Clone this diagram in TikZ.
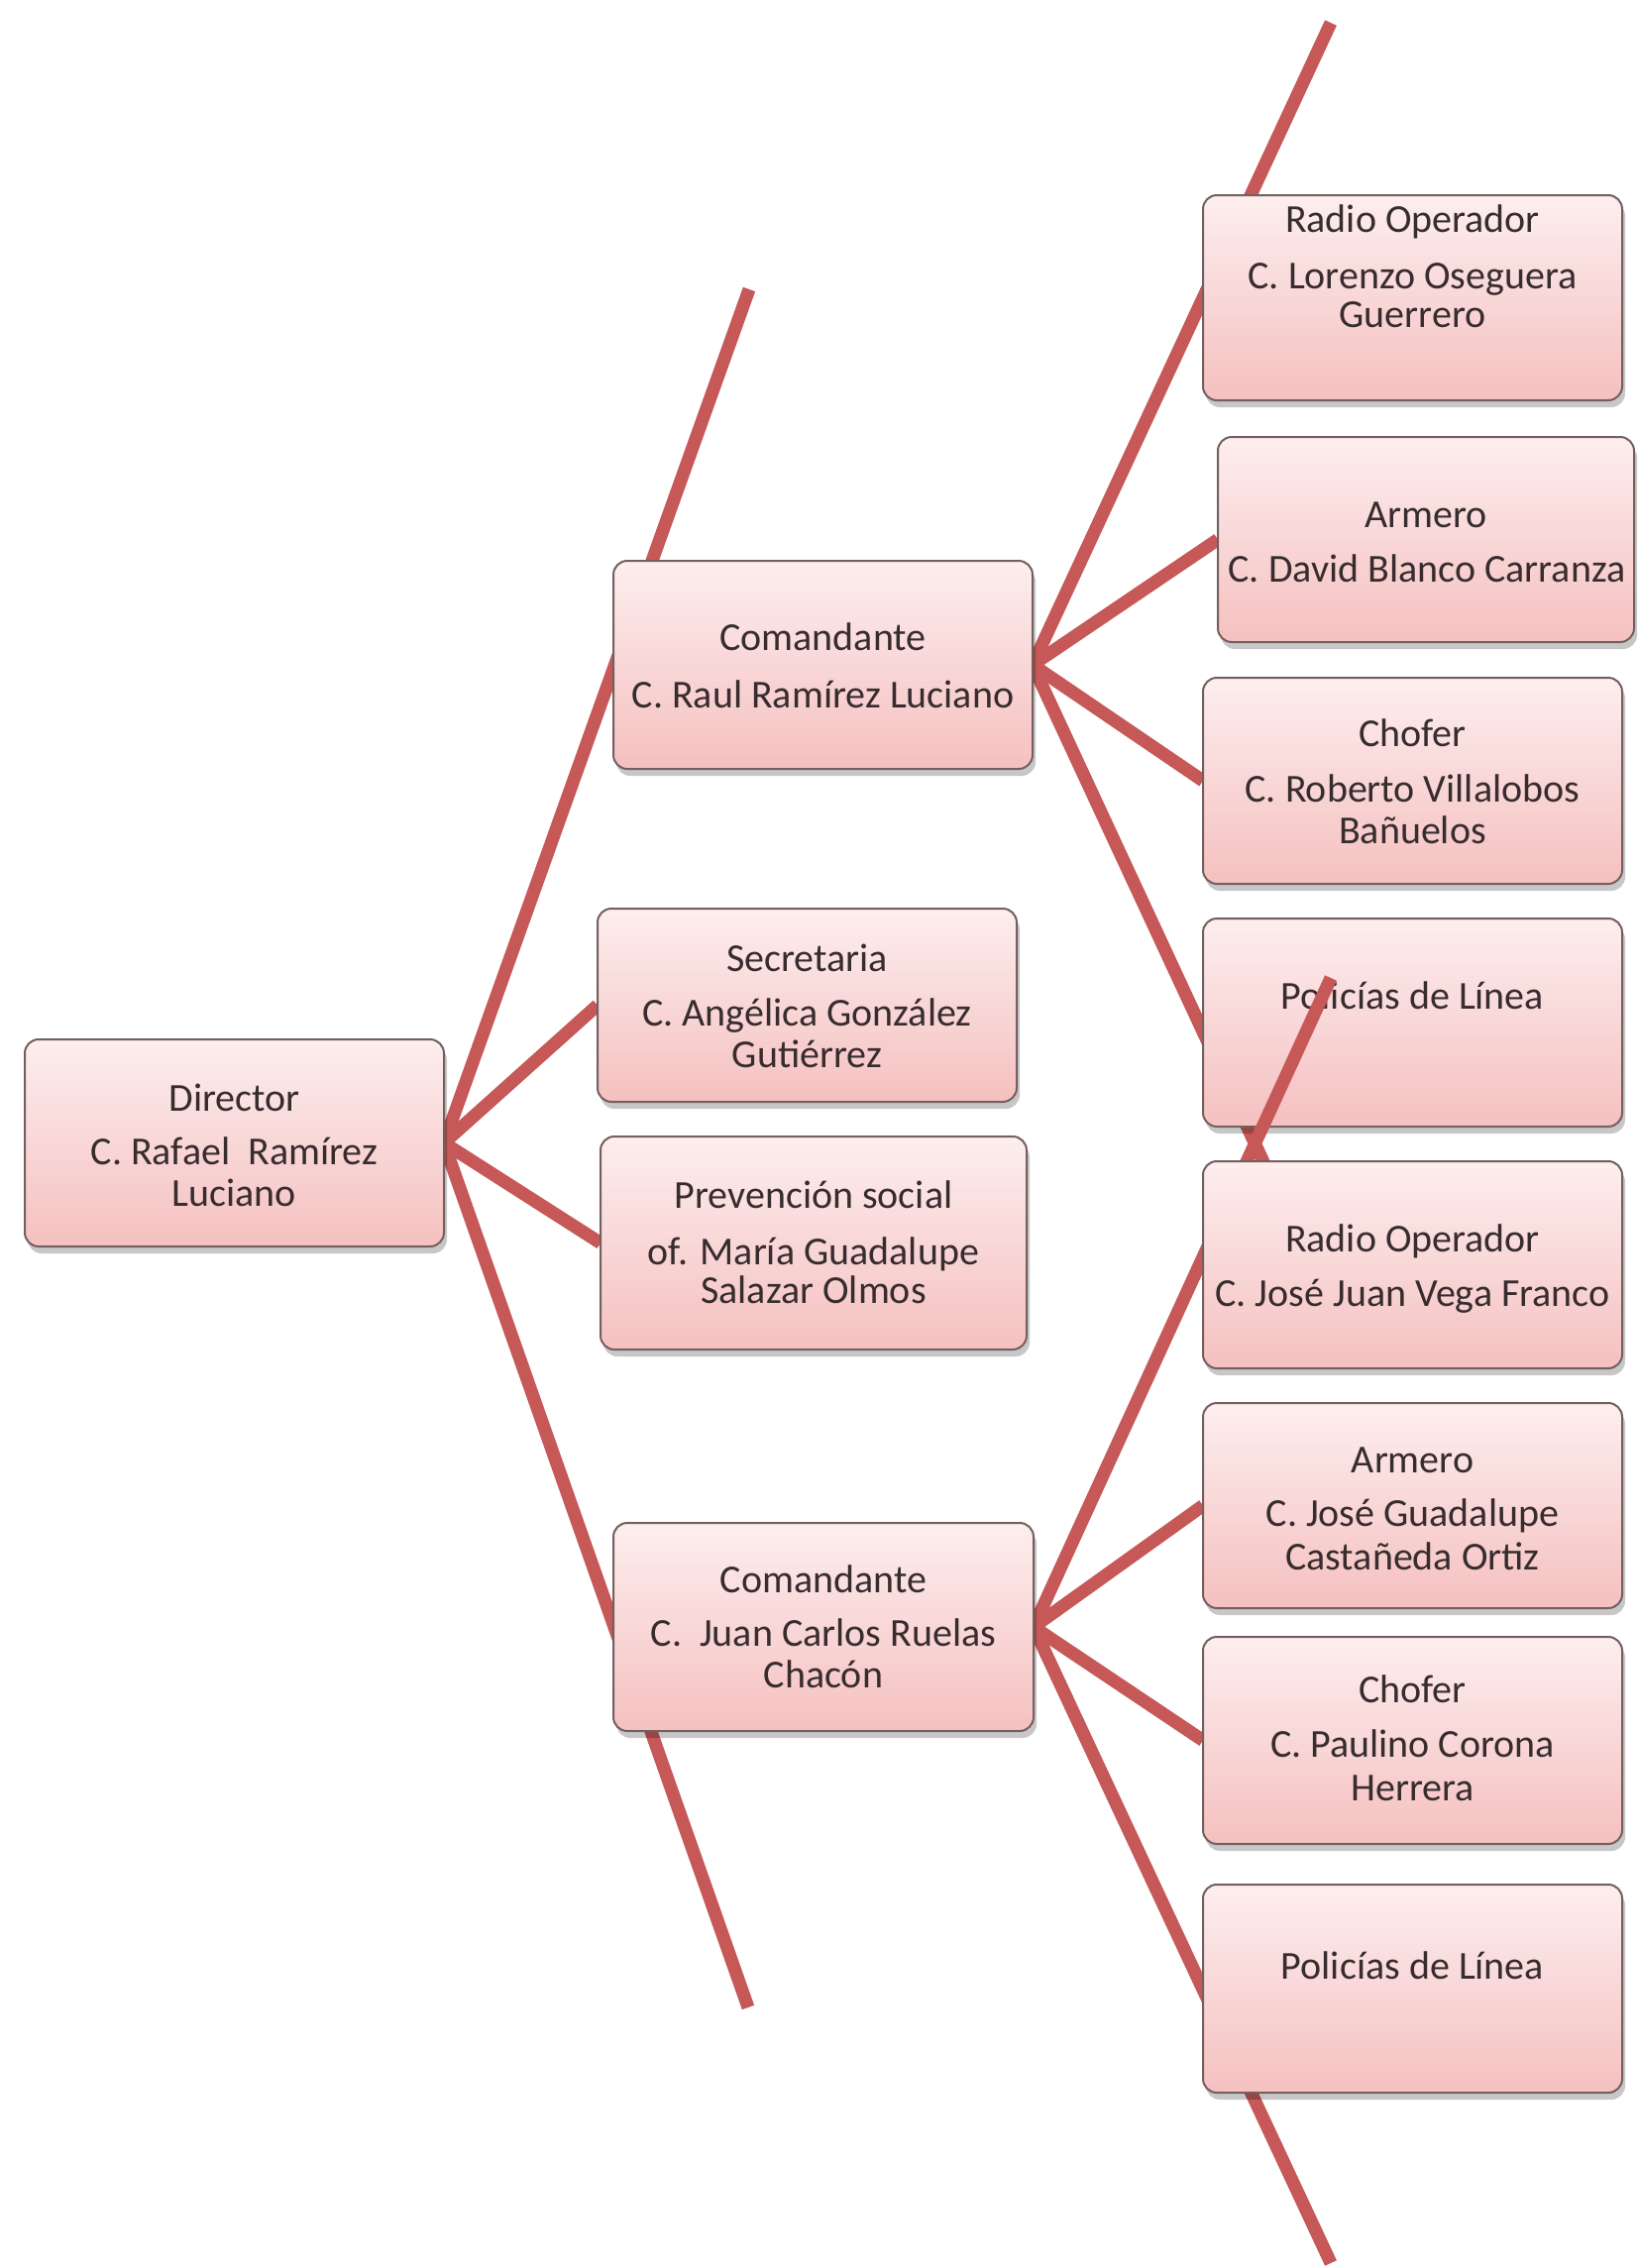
\documentclass[tikz,border=0pt]{standalone}
\usepackage{fontspec}
\setmainfont{Carlito}
\usetikzlibrary{shadows}
\pgfdeclarelayer{lzero}
\pgfdeclarelayer{ltwo}
\pgfdeclarelayer{lthree}
\pgfsetlayers{lzero,main,ltwo,lthree}
\definecolor{connred}{RGB}{198,88,88}
\definecolor{boxtop}{RGB}{253,238,238}
\definecolor{boxbot}{RGB}{245,192,192}
\definecolor{boxline}{RGB}{115,95,95}
\definecolor{txt}{RGB}{55,44,46}
\begin{document}
\begin{tikzpicture}[x=1pt,y=-1pt,
  orgbox/.style={draw=boxline, line width=2pt, rounded corners=14pt,
    top color=boxtop, bottom color=boxbot, inner sep=0pt, outer sep=0pt,
    drop shadow={shadow xshift=3pt, shadow yshift=-7pt, opacity=0.22, fill=black}},
  conn/.style={draw=connred, line width=13pt},
  ln/.style={anchor=base, inner sep=0pt, text=txt, font=\fontsize{40}{43}\selectfont}]
\begin{pgfonlayer}{lzero}
\fill[white] (0,0) rectangle (1652,2289);
\end{pgfonlayer}
\useasboundingbox (0,0) rectangle (1652,2289);

% free ends
\coordinate (dirUp) at (756,292);
\coordinate (dirDown) at (755,2026);
\coordinate (c1Up) at (1343,23);
\coordinate (c1Down) at (1343,1319);
\coordinate (c2Up) at (1343,987);
\coordinate (c2Down) at (1343,2284);

% ---------- main layer boxes ----------
\node[orgbox, minimum width=423pt, minimum height=209pt] (dir) at (236.5,1153.5) {};
\node[ln] (dirA) at (236.5,1121) {Director};
\node[ln] (dirB) at (236.5,1175) {C. Rafael\ \ Ramírez};
\node[ln] (dirC) at (236.5,1217) {Luciano};

\node[orgbox, minimum width=423pt, minimum height=210pt] (com1) at (830.5,671) {};
\node[ln] (com1A) at (830.5,656) {Comandante};
\node[ln] (com1B) at (830.5,714) {C. Raul Ramírez Luciano};

\node[orgbox, minimum width=423pt, minimum height=195pt] (sec) at (814.5,1014.5) {};
\node[ln] (secA) at (814.5,980) {Secretaria};
\node[ln] (secB) at (814.5,1035) {C. Angélica González};
\node[ln] (secC) at (814.5,1077) {Gutiérrez};

\node[orgbox, minimum width=430pt, minimum height=215pt] (prev) at (821,1254.5) {};
\node[ln] (prevA) at (821,1219) {Prevención social};
\node[ln] (prevB) at (821,1276) {of. María Guadalupe};
\node[ln] (prevC) at (821,1315) {Salazar Olmos};

\node[orgbox, minimum width=423pt, minimum height=207pt] (ro1) at (1425.5,300.5) {};
\node[ln] (ro1A) at (1425.5,234) {Radio Operador};
\node[ln] (ro1B) at (1425.5,291) {C. Lorenzo Oseguera};
\node[ln] (ro1C) at (1425.5,330) {Guerrero};

\node[orgbox, minimum width=420pt, minimum height=207pt] (arm1) at (1439,544.5) {};
\node[ln] (arm1A) at (1439,532) {Armero};
\node[ln] (arm1B) at (1440,587) {C. David Blanco Carranza};

\node[orgbox, minimum width=423pt, minimum height=208pt] (ch1) at (1425.5,788) {};
\node[ln] (ch1A) at (1425.5,753) {Chofer};
\node[ln] (ch1B) at (1425.5,809) {C. Roberto Villalobos};
\node[ln] (ch1C) at (1425.5,851) {Bañuelos};

\node[orgbox, minimum width=423pt, minimum height=210pt] (pol1) at (1425.5,1032) {};
\node[ln] (pol1A) at (1425.5,1018) {Policías de Línea};

% ---------- top layer: second commander group ----------
\begin{pgfonlayer}{lthree}
\node[orgbox, minimum width=424pt, minimum height=210pt] (com2) at (831,1642) {};
\node[ln] (com2A) at (831,1607) {Comandante};
\node[ln] (com2B) at (831,1661) {C.\ \ Juan Carlos Ruelas};
\node[ln] (com2C) at (831,1703) {Chacón};

\node[orgbox, minimum width=423pt, minimum height=209pt] (ro2) at (1425.5,1276.5) {};
\node[ln] (ro2A) at (1425.5,1263) {Radio Operador};
\node[ln] (ro2B) at (1425.5,1318) {C. José Juan Vega Franco};

\node[orgbox, minimum width=423pt, minimum height=207pt] (arm2) at (1425.5,1519.5) {};
\node[ln] (arm2A) at (1425.5,1486) {Armero};
\node[ln] (arm2B) at (1425.5,1540) {C. José Guadalupe};
\node[ln] (arm2C) at (1425.5,1584) {Castañeda Ortiz};

\node[orgbox, minimum width=423pt, minimum height=209pt] (ch2) at (1425.5,1756.5) {};
\node[ln] (ch2A) at (1425.5,1718) {Chofer};
\node[ln] (ch2B) at (1425.5,1773) {C. Paulino Corona};
\node[ln] (ch2C) at (1425.5,1817) {Herrera};

\node[orgbox, minimum width=423pt, minimum height=210pt] (pol2) at (1425.5,2007) {};
\node[ln] (pol2A) at (1425.5,1997) {Policías de Línea};
\end{pgfonlayer}

% ---------- connectors ----------
\begin{pgfonlayer}{lzero}
\draw[conn] (dir.east) -- (dirUp);
\draw[conn] (dir.east) -- (dirDown);
\draw[conn] (dir.east) -- (sec.west);
\draw[conn] (dir.east) -- (prev.west);
\draw[conn] (com1.east) -- (c1Up);
\draw[conn] (com1.east) -- (arm1.west);
\draw[conn] (com1.east) -- (ch1.west);
\draw[conn] (com1.east) -- (c1Down);
\end{pgfonlayer}
\begin{pgfonlayer}{ltwo}
\draw[conn] (com2.east) -- (c2Up);
\draw[conn] (com2.east) -- (arm2.west);
\draw[conn] (com2.east) -- (ch2.west);
\draw[conn] (com2.east) -- (c2Down);
\end{pgfonlayer}
\end{tikzpicture}
\end{document}
